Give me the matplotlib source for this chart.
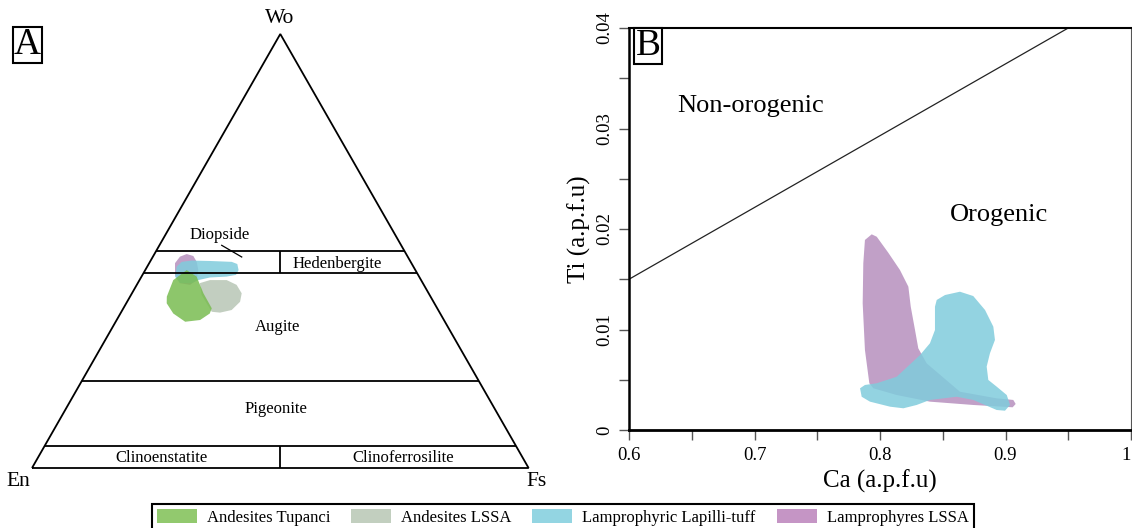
import matplotlib
matplotlib.use("Agg")
import matplotlib.pyplot as plt
from matplotlib.patches import Polygon, Patch
from matplotlib.ticker import MultipleLocator

plt.rcParams['font.family'] = ['Liberation Serif', 'DejaVu Serif']

# ---------------- data ----------------
# Panel A: ternary Wo-En-Fs (per cent) outlines of the fields
series_names = ["Andesites Tupanci", "Andesites LSSA", "Lamprophyric Lapilli-tuff", "Lamprophyres LSSA"]
legend_colors = ["#92c96e", "#c2cfbf", "#93d5e2", "#c595c5"]
fill_colors = ["#79bc51", "#b8c6b5", "#80ccdc", "#b68fbe"]

tup_wo = [39.5, 43.3, 45.6, 44.1, 40.25, 36.8, 35.6, 34.1, 33.7, 35.6, 37.95]
tup_fs = [7.4, 6.8, 8.35, 11.1, 14.4, 17.8, 18.0, 16.8, 14.0, 10.65, 8.15]

and_wo = [42.6, 43.3, 43.3, 42.2, 40.25, 38.3, 36.4, 35.8, 36.0, 37.95, 39.9]
and_fs = [12.5, 14.2, 17.55, 20.1, 22.1, 22.75, 22.0, 19.96, 18.2, 16.2, 14.2]

lap_wo = [44.1, 46.4, 47.5, 47.8, 47.7, 47.5, 47.0, 45.6, 44.5, 44.1, 43.9, 43.3, 42.6, 42.6]
lap_fs = [6.75, 5.94, 6.4, 8.26, 11.99, 16.46, 17.84, 18.8, 18.83, 17.15, 13.9, 11.84, 10.86, 8.5]

lam_wo = [47.2, 48.7, 49.3, 48.85, 47.5, 45.6, 43.3, 42.2, 42.6, 44.5]
lam_fs = [5.2, 5.45, 6.5, 8.06, 9.42, 10.69, 11.52, 10.72, 8.5, 6.55]

# field boundaries (Wo %)
wo_lines = [50, 45, 20, 5]
field_labels = ["Diopside", "Hedenbergite", "Augite", "Pigeonite", "Clinoenstatite", "Clinoferrosilite"]

# Panel B: Ca vs Ti (a.p.f.u.)
lam_ca = [0.7934, 0.7974, 0.8066, 0.8159, 0.8226, 0.8245, 0.8279, 0.8305, 0.8372, 0.8637, 0.8930,
          0.9062, 0.9081, 0.9057, 0.8743, 0.8398, 0.8133, 0.7947, 0.7915, 0.7880, 0.7862, 0.7867, 0.7880]
lam_ti = [0.01947, 0.01923, 0.01764, 0.01592, 0.01426, 0.01227, 0.00995, 0.00813, 0.00663, 0.00381, 0.00315,
          0.00299, 0.00259, 0.00226, 0.00249, 0.00282, 0.00348, 0.00415, 0.00465, 0.00796, 0.01261, 0.01659, 0.01891]

lap_ca = [0.8452, 0.8518, 0.8637, 0.8743, 0.8837, 0.8903, 0.8916, 0.8876, 0.8850, 0.8863, 0.8930, 0.9010,
          0.9036, 0.8996, 0.8930, 0.8743, 0.8611, 0.8398, 0.8292, 0.8186, 0.8080, 0.7920, 0.7854, 0.7841,
          0.7880, 0.7974, 0.8133, 0.8319, 0.8398, 0.8438, 0.8438]
lap_ti = [0.01294, 0.01343, 0.01376, 0.01333, 0.01194, 0.01028, 0.00896, 0.00763, 0.00631, 0.00498, 0.00431,
          0.00348, 0.00249, 0.00192, 0.00199, 0.00299, 0.00331, 0.00299, 0.00249, 0.00216, 0.00232, 0.00282,
          0.00331, 0.00415, 0.00448, 0.00465, 0.00530, 0.00746, 0.00863, 0.00995, 0.01227]

disc_ca = [0.6, 0.95]
disc_ti = [0.0150, 0.0400]

x_ticks = [0.6, 0.7, 0.8, 0.9, 1.0]
x_tick_labels = ["0.6", "0.7", "0.8", "0.9", "1"]
y_ticks = [0, 0.01, 0.02, 0.03, 0.04]
y_tick_labels = ["0", "0.01", "0.02", "0.03", "0.04"]

# ---------------- figure ----------------
W, H = 1132, 528
fig = plt.figure(figsize=(W / 100, H / 100), dpi=100)


def tern(wo, fs):
    """Wo, Fs in per cent -> cartesian (x in 0..1, y = Wo fraction)."""
    return fs / 100.0 + wo / 200.0, wo / 100.0


# ---- Panel A ----
axA = fig.add_axes([32 / W, (H - 468) / H, 496.6 / W, 434 / H])
axA.set_xlim(0, 1)
axA.set_ylim(0, 1)
axA.axis('off')

lk = dict(color='black', lw=1.3, solid_capstyle='butt', clip_on=False)
axA.plot([0, 1, 0.5, 0], [0, 0, 1, 0], solid_joinstyle='miter', **lk)
for w in wo_lines:
    x0, y0 = tern(w, 0)
    x1, y1 = tern(w, 100 - w)
    axA.plot([x0, x1], [y0, y1], **lk)
# dividers
axA.plot([0.5, 0.5], [0.45, 0.50], **lk)
axA.plot([0.5, 0.5], [0.0, 0.05], **lk)

for wo, fs, col in [(lam_wo, lam_fs, fill_colors[3]), (lap_wo, lap_fs, fill_colors[2]),
                    (and_wo, and_fs, fill_colors[1]), (tup_wo, tup_fs, fill_colors[0])]:
    pts = [tern(a, b) for a, b in zip(wo, fs)]
    axA.add_patch(Polygon(pts, closed=True, facecolor=col, edgecolor='none', alpha=0.85))

tk = dict(ha='center', va='center', fontsize=12, color='black')
axA.text(0.3786, 0.537, field_labels[0], **tk)
axA.plot([0.382, 0.4223], [0.5131, 0.4862], color='black', lw=0.9)
axA.text(0.6152, 0.470, field_labels[1], **tk)
axA.text(0.4944, 0.3249, field_labels[2], **tk)
axA.text(0.4913, 0.1359, field_labels[3], **tk)
axA.text(0.2598, 0.0230, field_labels[4], **tk)
axA.text(0.7471, 0.0230, field_labels[5], **tk)
axA.text(0.4994, 1.036, "Wo", ha='center', va='center', fontsize=15.5, clip_on=False)
axA.text(-0.027, -0.030, "En", ha='center', va='center', fontsize=15.5, clip_on=False)
axA.text(1.017, -0.032, "Fs", ha='center', va='center', fontsize=15.5, clip_on=False)

fig.text(27.5 / W, 1 - 45 / H, "A", ha='center', va='center', fontsize=27,
         bbox=dict(boxstyle='square,pad=0.03', facecolor='white', edgecolor='black', lw=1.5))

# ---- Panel B ----
axB = fig.add_axes([629 / W, (H - 430) / H, 502 / W, 402 / H])
axB.set_xlim(0.6, 1.0)
axB.set_ylim(0, 0.04)
axB.add_patch(Polygon(list(zip(lam_ca, lam_ti)), closed=True, facecolor=fill_colors[3],
                      edgecolor='none', alpha=0.85))
axB.add_patch(Polygon(list(zip(lap_ca, lap_ti)), closed=True, facecolor=fill_colors[2],
                      edgecolor='none', alpha=0.85))
axB.plot(disc_ca, disc_ti, color='#222222', lw=0.9)

axB.set_xticks(x_ticks)
axB.set_xticklabels(x_tick_labels)
axB.set_yticks(y_ticks)
axB.set_yticklabels(y_tick_labels, rotation=90, va='center')
axB.get_xticklabels()[-1].set_ha('right')
axB.xaxis.set_minor_locator(MultipleLocator(0.05))
axB.yaxis.set_minor_locator(MultipleLocator(0.005))
axB.tick_params(which='both', direction='out', length=7, width=1, color='#555555',
                labelsize=13.5, top=False, right=False)
axB.tick_params(axis='x', which='major', pad=5)
axB.tick_params(axis='y', which='major', pad=4)
axB.spines['left'].set_linewidth(1.8)
axB.spines['bottom'].set_linewidth(2.0)
axB.spines['top'].set_linewidth(1.5)
axB.spines['right'].set_linewidth(0.8)
axB.spines['right'].set_color('#555555')
axB.set_xlabel("Ca (a.p.f.u)", fontsize=18, labelpad=4)
axB.set_ylabel("Ti (a.p.f.u)", fontsize=18, labelpad=4)

axB.text(0.6972, 0.0322, "Non-orogenic", ha='center', va='center', fontsize=19)
axB.text(0.8948, 0.0214, "Orogenic", ha='center', va='center', fontsize=19)

fig.text(648 / W, 1 - 46 / H, "B", ha='center', va='center', fontsize=27,
         bbox=dict(boxstyle='square,pad=0.03', facecolor='white', edgecolor='black', lw=1.5))

# ---- legend ----
handles = [Patch(facecolor=c, edgecolor='none') for c in legend_colors]
leg = fig.legend(handles, series_names, ncol=4, loc='upper left',
                 bbox_to_anchor=(152 / W, (H - 504) / H), frameon=True, fancybox=False,
                 framealpha=1, edgecolor='black', borderaxespad=0, borderpad=0.3,
                 handlelength=2.4, handleheight=0.95, handletextpad=0.6, columnspacing=1.25,
                 prop={'family': 'Liberation Serif', 'size': 12})
leg.get_frame().set_linewidth(1.5)

fig.savefig("out.png", dpi=100)
